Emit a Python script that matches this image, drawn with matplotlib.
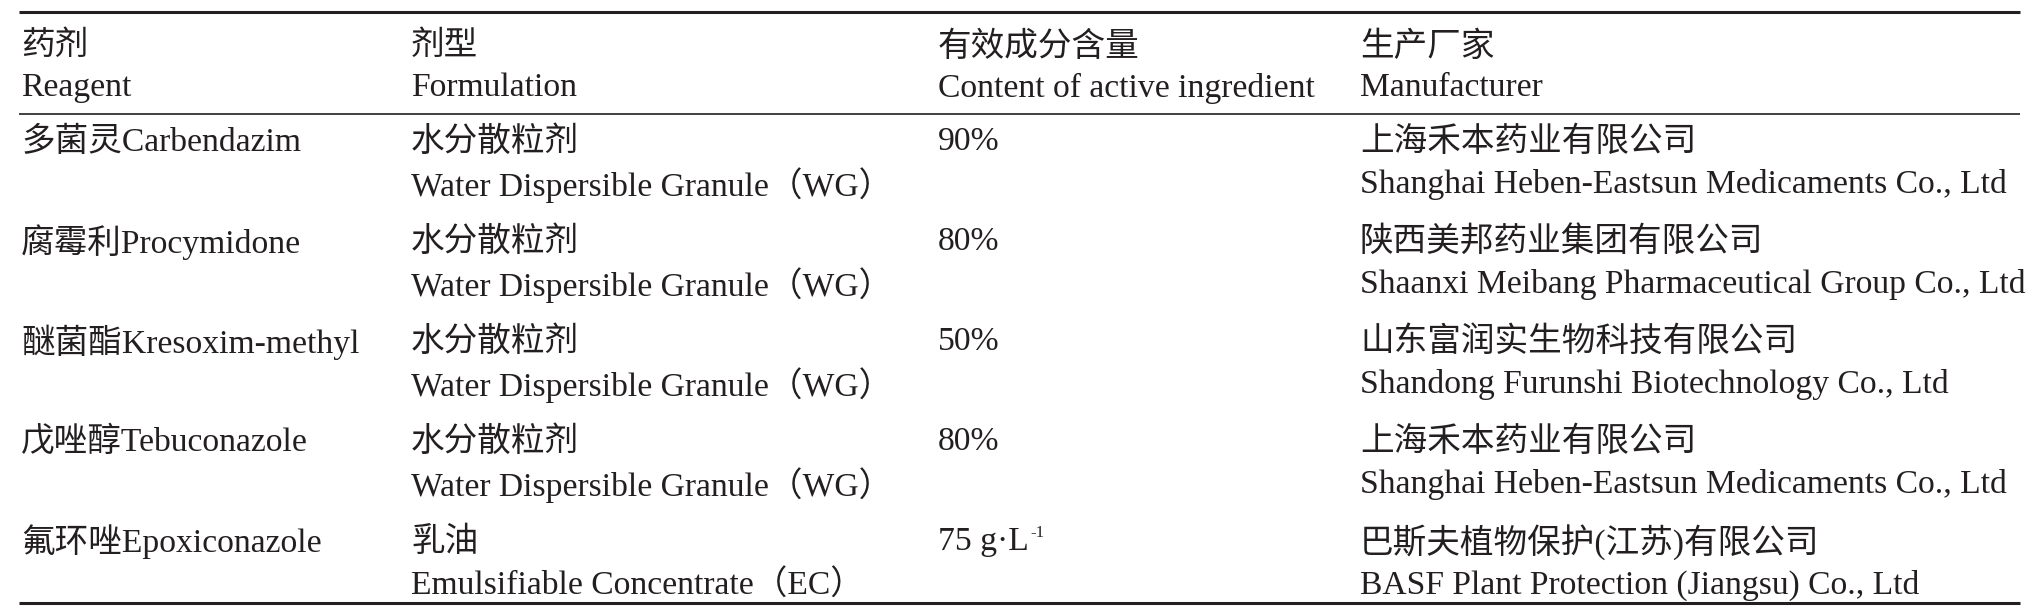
import matplotlib
matplotlib.use("Agg")
import matplotlib.pyplot as plt

FG = "#231f20"
FONTS = ["Liberation Serif", "Noto Sans CJK SC", "DejaVu Sans"]

HEADER_CN = ["药剂", "剂型", "有效成分含量", "生产厂家"]
HEADER_EN = ["Reagent", "Formulation", "Content of active ingredient", "Manufacturer"]

REAGENT = ["多菌灵Carbendazim", "腐霉利Procymidone", "醚菌酯Kresoxim-methyl",
           "戊唑醇Tebuconazole", "氟环唑Epoxiconazole"]
FORM_CN = ["水分散粒剂", "水分散粒剂", "水分散粒剂", "水分散粒剂", "乳油"]
FORM_EN = ["Water Dispersible Granule（WG）"] * 4 + ["Emulsifiable Concentrate（EC）"]
CONTENT = ["90%", "80%", "50%", "80%", "75 g\u00b7L^-1"]
MAKER_CN = ["上海禾本药业有限公司", "陕西美邦药业集团有限公司",
            "山东富润实生物科技有限公司", "上海禾本药业有限公司",
            "巴斯夫植物保护(江苏)有限公司"]
MAKER_EN = ["Shanghai Heben-Eastsun Medicaments Co., Ltd",
            "Shaanxi Meibang Pharmaceutical Group Co., Ltd",
            "Shandong Furunshi Biotechnology Co., Ltd",
            "Shanghai Heben-Eastsun Medicaments Co., Ltd",
            "BASF Plant Protection (Jiangsu) Co., Ltd"]

plt.rcParams["font.family"] = FONTS

W, H = 2029, 611
fig = plt.figure(figsize=(W / 100, H / 100), dpi=100)
fig.patch.set_facecolor("white")
ax = fig.add_axes([0, 0, 1, 1])
ax.set_xlim(0, W)
ax.set_ylim(H, 0)
ax.axis("off")

COL_X = [21, 411, 938, 1360]
FS = 24.2
LINE_GAP = 43

# three-line table rules
ax.plot([19, 2020], [12, 12], color=FG, lw=2.2, solid_capstyle="butt")
ax.plot([19, 2020], [114, 114], color=FG, lw=1.2, solid_capstyle="butt")
ax.plot([19, 2020], [603, 603], color=FG, lw=2.2, solid_capstyle="butt")


def put(x, y, s):
    # "^" marks a superscript tail (75 g·L^-1)
    base, _, sup = s.partition("^")
    t = ax.text(x, y, base, fontsize=FS, color=FG, ha="left", va="center")
    if sup:
        ax.annotate(sup, xy=(1.0, 0.78), xycoords=t, xytext=(1, 0),
                    textcoords="offset points", fontsize=FS * 0.5,
                    color=FG, ha="left", va="center")
    return t


# header
for x, cn, en in zip(COL_X, HEADER_CN, HEADER_EN):
    put(x, 47, cn)
    put(x, 88, en)

# body rows
row_y0, row_step = 142, 100
for i in range(len(REAGENT)):
    y = row_y0 + i * row_step
    put(COL_X[0], y, REAGENT[i])
    put(COL_X[1], y, FORM_CN[i])
    put(COL_X[1], y + LINE_GAP, FORM_EN[i])
    put(COL_X[2], y, CONTENT[i])
    put(COL_X[3], y, MAKER_CN[i])
    put(COL_X[3], y + LINE_GAP, MAKER_EN[i])

fig.savefig("out.png", dpi=100, facecolor="white")
